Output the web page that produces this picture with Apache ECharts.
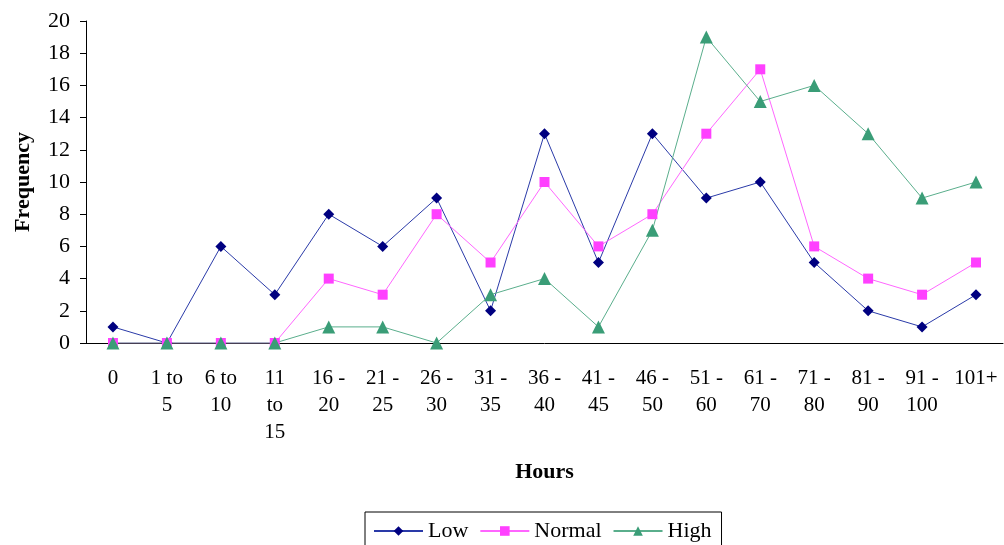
<!DOCTYPE html>
<html>
<head>
<meta charset="utf-8">
<script src="https://cdn.jsdelivr.net/npm/echarts@6/dist/echarts.min.js"></script>
<style>
  html, body { margin: 0; padding: 0; background: #fff; }
  #chart { width: 1004px; height: 545px; }
</style>
</head>
<body>
<div id="chart"></div>
<script>
// Hour bands on the x axis
const categories = ['0', '1 to 5', '6 to 10', '11 to 15', '16 - 20', '21 - 25', '26 - 30',
  '31 - 35', '36 - 40', '41 - 45', '46 - 50', '51 - 60', '61 - 70', '71 - 80',
  '81 - 90', '91 - 100', '101+'];

// Frequency per band for each group
const lowValues    = [1, 0, 6, 3, 8, 6, 9, 2, 13, 5, 13, 9, 10, 5, 2, 1, 3];
const normalValues = [0, 0, 0, 0, 4, 3, 8, 5, 10, 6, 8, 13, 17, 6, 4, 3, 5];
const highValues   = [0, 0, 0, 0, 1, 1, 0, 3, 4, 1, 7, 19, 15, 16, 13, 9, 10];

const yTicks = [0, 2, 4, 6, 8, 10, 12, 14, 16, 18, 20];

const FONT = '"Liberation Serif", "Times New Roman", serif';

// Greedy word wrap so narrow category cells stack their words
function wrap(label, maxChars) {
  const words = label.split(' ');
  const lines = [];
  let cur = '';
  words.forEach(w => {
    const next = cur ? cur + ' ' + w : w;
    if (next.length > maxChars && cur) { lines.push(cur); cur = w; }
    else cur = next;
  });
  if (cur) lines.push(cur);
  return lines.join('\n');
}

const chart = echarts.init(document.getElementById('chart'), null, { renderer: 'canvas' });

function lineSeries(name, data, color, lineColor, symbol, size) {
  return {
    name, type: 'line', data,
    symbol, symbolSize: size,
    itemStyle: { color },
    lineStyle: { color: lineColor, width: 1 },
    emphasis: { disabled: true },
    animation: false
  };
}

chart.setOption({
  backgroundColor: '#ffffff',
  textStyle: { fontFamily: FONT, color: '#000' },
  grid: { left: 86, right: 1, top: 21, bottom: 202, containLabel: false, outerBoundsMode: 'none' },
  xAxis: {
    type: 'category',
    data: categories,
    boundaryGap: true,
    name: 'Hours',
    nameLocation: 'middle',
    nameGap: 118,
    nameTextStyle: { fontFamily: FONT, fontSize: 22, fontWeight: 'bold', color: '#000' },
    axisLine: { lineStyle: { color: '#000', width: 1 } },
    axisTick: { length: 6, lineStyle: { color: '#000' } },
    axisLabel: {
      interval: 0, margin: 22, fontFamily: FONT, fontSize: 21, color: '#000',
      lineHeight: 27,
      formatter: v => wrap(v, 4)
    },
    splitLine: { show: false }
  },
  yAxis: {
    type: 'value',
    min: yTicks[0], max: yTicks[yTicks.length - 1], interval: 2,
    name: 'Frequency',
    nameLocation: 'middle',
    nameGap: 52,
    nameRotate: 90,
    nameTextStyle: { fontFamily: FONT, fontSize: 22, fontWeight: 'bold', color: '#000' },
    axisLine: { show: true, lineStyle: { color: '#000', width: 1 } },
    axisTick: { show: true, length: 6, lineStyle: { color: '#000' } },
    axisLabel: { margin: 16, fontFamily: FONT, fontSize: 22, color: '#000' },
    splitLine: { show: false }
  },
  legend: {
    left: 365, top: 512,
    padding: [8, 10, 10, 8],
    itemGap: 11,
    itemWidth: 49, itemHeight: 12,
    borderColor: '#000', borderWidth: 1,
    textStyle: { fontFamily: FONT, fontSize: 22, color: '#000' },
    data: ['Low', 'Normal', 'High']
  },
  series: [
    lineSeries('Low', lowValues, '#000080', '#2a3aa8', 'diamond', 11),
    lineSeries('Normal', normalValues, '#ff40ff', '#ff66ff', 'rect', 10),
    lineSeries('High', highValues, '#3a9d77', '#5aae8c', 'triangle', 13)
  ]
});
</script>
</body>
</html>
